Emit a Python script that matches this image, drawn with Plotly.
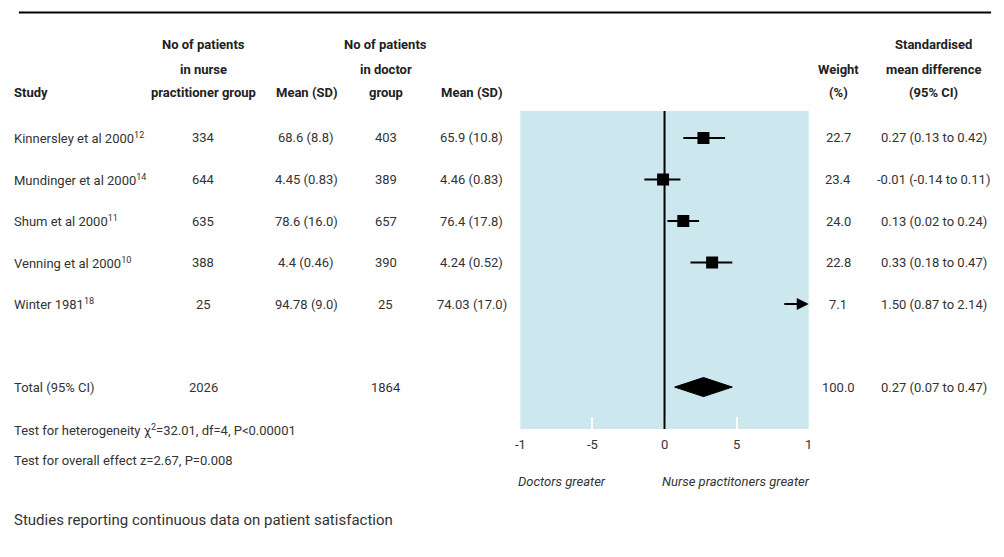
import plotly.graph_objects as go

# ---------------- data ----------------
studies = ["Kinnersley et al 2000", "Mundinger et al 2000", "Shum et al 2000",
           "Venning et al 2000", "Winter 1981"]
refs = ["12", "14", "11", "10", "18"]
n_np = [334, 644, 635, 388, 25]
mean_np = ["68.6 (8.8)", "4.45 (0.83)", "78.6 (16.0)", "4.4 (0.46)", "94.78 (9.0)"]
n_dr = [403, 389, 657, 390, 25]
mean_dr = ["65.9 (10.8)", "4.46 (0.83)", "76.4 (17.8)", "4.24 (0.52)", "74.03 (17.0)"]
weights = [22.7, 23.4, 24.0, 22.8, 7.1]
smd = [0.27, -0.01, 0.13, 0.33, 1.50]
smd_lo = [0.13, -0.14, 0.02, 0.18, 0.87]
smd_hi = [0.42, 0.11, 0.24, 0.47, 2.14]

total_label = "Total (95% CI)"
total_n_np = 2026
total_n_dr = 1864
total_weight = 100.0
total_smd = 0.27
total_lo = 0.07
total_hi = 0.47

tick_vals = [-1, -0.5, 0, 0.5, 1]
tick_text = ["-1", "-5", "0", "5", "1"]
x_range = [-1, 1]

heterogeneity = "Test for heterogeneity χ<sup>2</sup>=32.01, df=4, P&lt;0.00001"
overall = "Test for overall effect z=2.67, P=0.008"
caption = "Studies reporting continuous data on patient satisfaction"
left_label = "Doctors greater"
right_label = "Nurse practitoners greater"

# ---------------- layout helpers ----------------
W, H = 1004, 557
def px(p):
    return p / W
def py(p):
    return 1 - p / H

FONT = "Roboto, Liberation Sans, Arial, sans-serif"
TXT = "#333333"
HDR = "#222222"
BLUE = "#cce8ee"

row_y = list(range(len(studies)))
total_y = len(studies) + 1
y_top_val = -0.65
y_bot_val = 7.01

fig = go.Figure()

# studies within the axis range
in_idx = [i for i in range(len(studies)) if smd_hi[i] <= x_range[1] and smd_lo[i] >= x_range[0]]
fig.add_trace(go.Scatter(
    x=[smd[i] for i in in_idx],
    y=[row_y[i] for i in in_idx],
    mode="markers",
    marker=dict(symbol="square", size=12, color="black"),
    error_x=dict(type="data", symmetric=False,
                 array=[smd_hi[i] - smd[i] for i in in_idx],
                 arrayminus=[smd[i] - smd_lo[i] for i in in_idx],
                 color="black", thickness=2, width=0),
    hoverinfo="skip", showlegend=False,
))

annotations = []
# studies exceeding the axis range -> arrow
for i in range(len(studies)):
    if smd_hi[i] > x_range[1]:
        annotations.append(dict(
            x=x_range[1], y=row_y[i], xref="x", yref="y",
            ax=smd_lo[i] - 0.05, ay=row_y[i], axref="x", ayref="y",
            showarrow=True, arrowhead=2, arrowsize=1.2, arrowwidth=2,
            arrowcolor="black", text=""))

# total diamond
dh = 0.23
fig.add_trace(go.Scatter(
    x=[total_lo, total_smd, total_hi, total_smd, total_lo],
    y=[total_y, total_y - dh, total_y, total_y + dh, total_y],
    mode="lines", fill="toself", fillcolor="black",
    line=dict(color="black", width=1),
    hoverinfo="skip", showlegend=False,
))

# column x positions (pixels)
col_study = 7
col_nnp = 200
col_mnp = 304
col_ndr = 384
col_mdr = 471
col_w = 841
col_smd = 937

def txt(x, y, s, anchor="center", yref="y", size=13, color=TXT, bold=False, italic=False):
    if bold:
        s = "<b>" + s + "</b>"
    if italic:
        s = "<i>" + s + "</i>"
    annotations.append(dict(x=px(x), y=y, xref="paper", yref=yref, text=s,
                            showarrow=False, xanchor=anchor, yanchor="middle",
                            font=dict(family=FONT, size=size, color=color)))

# headers
hy = [45, 69, 92]
HS = 13
txt(col_study, py(hy[2]), "Study", "left", "paper", size=HS, bold=True, color=HDR)
for j, s in enumerate(["No of patients", "in nurse", "practitioner group"]):
    txt(col_nnp, py(hy[j]), s, "center", "paper", size=HS, bold=True, color=HDR)
txt(col_mnp, py(hy[2]), "Mean (SD)", "center", "paper", size=HS, bold=True, color=HDR)
for j, s in enumerate(["No of patients", "in doctor", "group"]):
    txt(col_ndr, py(hy[j]), s, "center", "paper", size=HS, bold=True, color=HDR)
txt(col_mdr, py(hy[2]), "Mean (SD)", "center", "paper", size=HS, bold=True, color=HDR)
for j, s in enumerate(["Weight", "(%)"]):
    txt(col_w, py(hy[j + 1]), s, "center", "paper", size=HS, bold=True, color=HDR)
for j, s in enumerate(["Standardised", "mean difference", "(95% CI)"]):
    txt(col_smd, py(hy[j]), s, "center", "paper", size=HS, bold=True, color=HDR)

# rows
for i in range(len(studies)):
    txt(col_study, row_y[i], f"{studies[i]}<sup>{refs[i]}</sup>", "left")
    txt(col_nnp, row_y[i], str(n_np[i]))
    txt(col_mnp, row_y[i], mean_np[i])
    txt(col_ndr, row_y[i], str(n_dr[i]))
    txt(col_mdr, row_y[i], mean_dr[i])
    txt(col_w, row_y[i], f"{weights[i]:.1f}")
    txt(col_smd, row_y[i], f"{smd[i]:.2f} ({smd_lo[i]:.2f} to {smd_hi[i]:.2f})")

# total row
txt(col_study, total_y, total_label, "left")
txt(col_nnp, total_y, str(total_n_np))
txt(col_ndr, total_y, str(total_n_dr))
txt(col_w, total_y, f"{total_weight:.1f}")
txt(col_smd, total_y, f"{total_smd:.2f} ({total_lo:.2f} to {total_hi:.2f})")

# footer texts
txt(col_study, py(430), heterogeneity, "left", "paper")
txt(col_study, py(460), overall, "left", "paper")
txt(516, py(482), left_label, "left", "paper", italic=True)
txt(661, py(482), right_label, "left", "paper", italic=True)
txt(col_study, py(520), caption, "left", "paper", size=15)

shapes = [
    dict(type="line", xref="x", yref="y domain", x0=0, x1=0, y0=0, y1=1,
         line=dict(color="black", width=2), layer="above"),
    dict(type="line", xref="paper", yref="paper", x0=px(14), x1=px(995),
         y0=py(12.5), y1=py(12.5), line=dict(color="black", width=2)),
]

fig.update_layout(
    width=W, height=H,
    margin=dict(l=0, r=0, t=0, b=0),
    paper_bgcolor="white", plot_bgcolor=BLUE,
    xaxis=dict(domain=[px(520), px(811)], range=x_range, tickvals=tick_vals,
               ticktext=tick_text, ticks="inside", ticklen=12, tickwidth=1.5,
               tickcolor="white", showgrid=False, zeroline=False, showline=False,
               ticklabelstandoff=6,
               tickfont=dict(family=FONT, size=13, color=TXT), fixedrange=True),
    yaxis=dict(domain=[py(429), py(111)], range=[y_bot_val, y_top_val],
               visible=False, fixedrange=True),
    annotations=annotations, shapes=shapes,
    showlegend=False,
)

fig.write_html(
    "out.html",
    config={"displayModeBar": False},
    post_script="document.body.style.margin='0';document.documentElement.style.overflow='hidden';document.body.style.overflow='hidden';",
)
